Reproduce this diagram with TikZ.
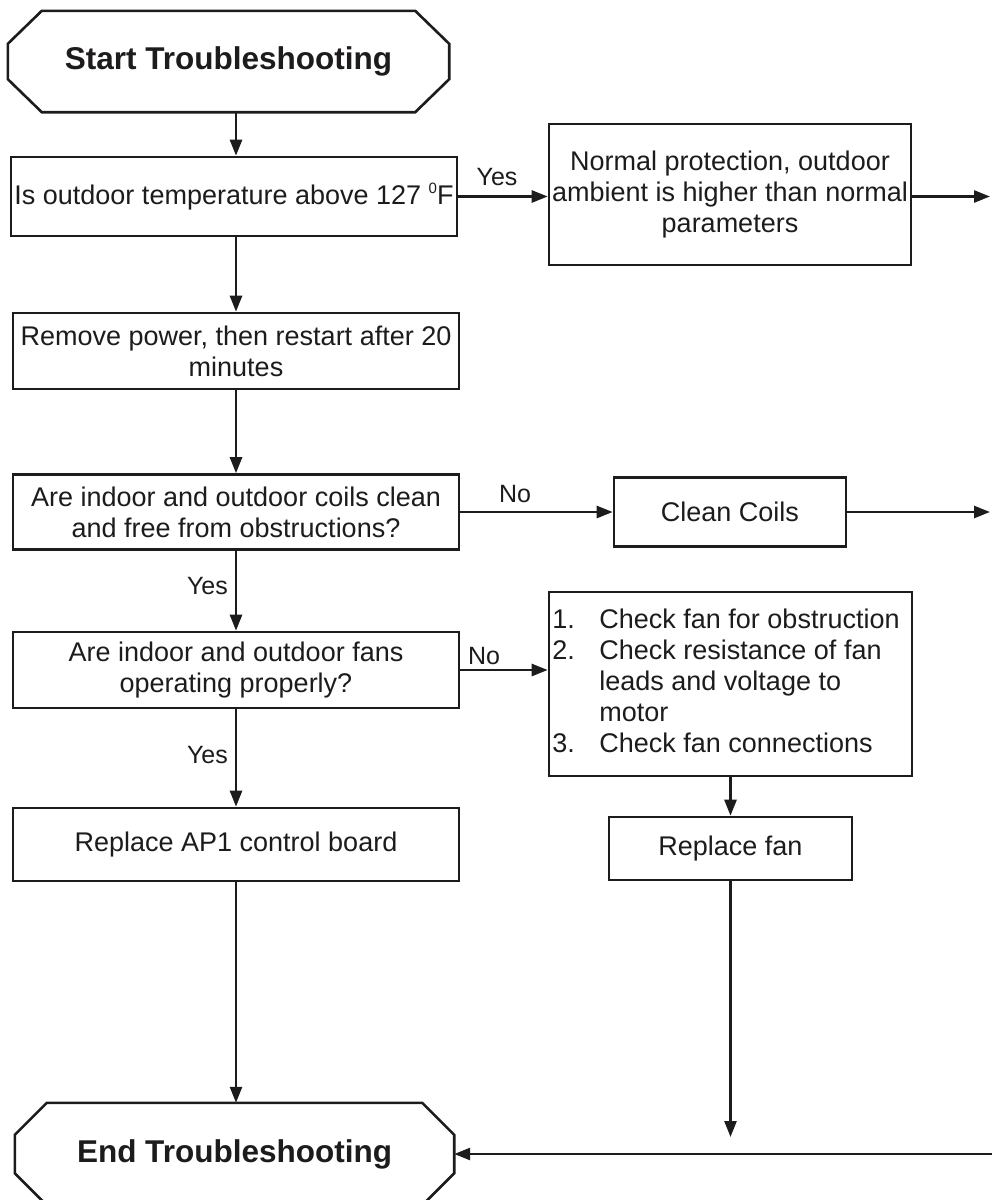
\documentclass[tikz,border=0pt]{standalone}
\usepackage{fontspec}
\setmainfont{Liberation Sans}
\usetikzlibrary{arrows.meta,calc}
\definecolor{ink}{RGB}{30,27,28}
\newcommand{\degsup}{\raisebox{0.75ex}{\fontsize{15}{15}\selectfont 0}}
\begin{document}
\begin{tikzpicture}[x=1pt,y=-1pt,
  every node/.style={text=ink, font=\fontsize{27}{31}\selectfont},
  box/.style={draw=ink, line width=2.6pt, inner sep=0pt, align=center},
  term/.style={inner sep=0pt, font=\fontsize{31.5}{36}\selectfont\bfseries},
  lbl/.style={font=\fontsize{25}{30}\selectfont, inner sep=0pt},
  arr/.style={draw=ink, line width=2.6pt, -{Triangle[length=16pt,width=12pt]}},
  ln/.style={draw=ink, line width=2.6pt, line join=miter}]
\useasboundingbox (0,0) rectangle (992,1200);
\fill[white] (0,0) rectangle (992,1200);

% Start terminal
\node[term, minimum width=441pt, minimum height=101pt] (start) at (228.5,61.5) {Start Troubleshooting};
\draw[ln] ($(start.north west)+(34,0)$) -- ($(start.north east)+(-34,0)$) -- ($(start.north east)+(0,33)$) -- ($(start.south east)+(0,-33)$) -- ($(start.south east)+(-34,0)$) -- ($(start.south west)+(34,0)$) -- ($(start.south west)+(0,-33)$) -- ($(start.north west)+(0,33)$) -- cycle;

% Left column
\node[box, minimum width=446pt, minimum height=79pt] (q1) at (234,196.5) {Is outdoor temperature above 127 \degsup F};
\node[box, minimum width=446pt, minimum height=76pt] (q2) at (236,351) {Remove power, then restart after 20\\minutes};
\node[box, minimum width=446pt, minimum height=75pt] (q3) at (236,512) {Are indoor and outdoor coils clean\\and free from obstructions?};
\node[box, minimum width=446pt, minimum height=76pt] (q4) at (236,670) {Are indoor and outdoor fans\\operating properly?};
\node[box, minimum width=446pt, minimum height=73pt] (ap1) at (236,844.5) {Replace AP1 control board};

% Right column
\node[box, minimum width=362pt, minimum height=141pt] (np) at (730,194.5) {Normal protection, outdoor\\ambient is higher than normal\\parameters};
\node[box, minimum width=232pt, minimum height=69pt] (cc) at (730,512) {Clean Coils};
\node[box, minimum width=363pt, minimum height=184pt] (chk) at (730.5,684) {\begin{tabular}{@{}p{47pt}@{}l@{}}
1. & Check fan for obstruction\\
2. & Check resistance of fan\\
   & leads and voltage to\\
   & motor\\
3. & Check fan connections
\end{tabular}\hspace*{9pt}};
\node[box, minimum width=243pt, minimum height=63pt] (rf) at (730.5,848.5) {Replace fan};

% End terminal
\node[term, minimum width=439pt, minimum height=102pt] (end) at (234.5,1154) {End Troubleshooting};
\draw[ln] ($(end.north west)+(32,0)$) -- ($(end.north east)+(-32,0)$) -- ($(end.north east)+(0,32)$) -- ($(end.south east)+(0,-32)$) -- ($(end.south east)+(-32,0)$) -- ($(end.south west)+(32,0)$) -- ($(end.south west)+(0,-32)$) -- ($(end.north west)+(0,32)$) -- cycle;

% Off-page coordinates
\coordinate (o1) at (990,196.5);
\coordinate (o2) at (990,512);
\coordinate (o3) at (993,1154);
\coordinate (o4) at (730.5,1137);

% Connectors
\draw[arr] (start.south -| q2.north) -- (q1.north -| q2.north);
\draw[arr] (q1.east) -- (q1.east -| np.west);
\draw[arr] (np.east |- q1.east) -- (o1);
\draw[arr] (q1.south -| q2.north) -- (q2.north);
\draw[arr] (q2.south) -- (q3.north);
\draw[arr] (q3.east) -- (cc.west);
\draw[arr] (cc.east) -- (o2);
\draw[arr] (q3.south) -- (q4.north);
\draw[arr] (q4.east) -- (q4.east -| chk.west);
\draw[arr] (q4.south) -- (ap1.north);
\draw[arr] (chk.south) -- (rf.north);
\draw[arr] (rf.south) -- (o4);
\draw[arr] (ap1.south) -- (ap1.south |- end.north);
\draw[arr] (o3) -- (end.east);

% Labels
\node[lbl] (y1) at (497,177) {Yes};
\node[lbl] (n1) at (515,494) {No};
\node[lbl, anchor=east] (y2) at (228,586) {Yes};
\node[lbl] (n2) at (484,656) {No};
\node[lbl, anchor=east] (y3) at (228,755) {Yes};
\end{tikzpicture}
\end{document}
